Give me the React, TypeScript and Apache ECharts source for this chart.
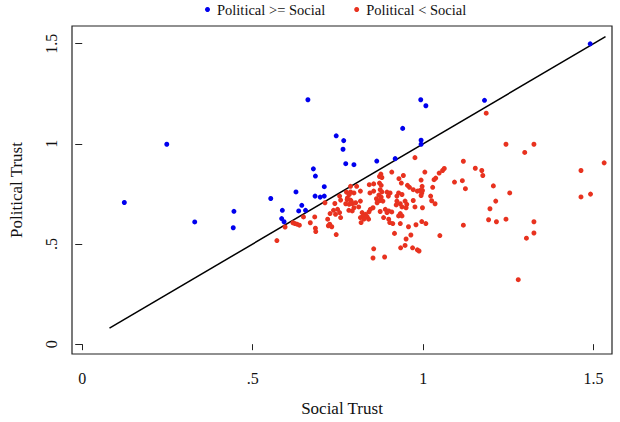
import React, { useEffect, useRef } from "react";
import * as echarts from "echarts";

const seriesNames = ["Political >= Social", "Political < Social"];
const tickValues = [0, 0.5, 1, 1.5];
const tickLabels = ["0", ".5", "1", "1.5"];
const xTitle = "Social Trust";
const yTitle = "Political Trust";
const diagonal = [
  [0.08, 0.08],
  [1.535, 1.535],
];

const bluePoints = [
  [0.1235, 0.707], [0.248, 0.998], [0.33, 0.61], [0.445, 0.663], [0.443, 0.581],
  [0.553, 0.727], [0.585, 0.627], [0.587, 0.668], [0.592, 0.611], [0.627, 0.76],
  [0.635, 0.665], [0.644, 0.693], [0.655, 0.668], [0.662, 1.22], [0.678, 0.875],
  [0.684, 0.839], [0.683, 0.739], [0.698, 0.734], [0.71, 0.739], [0.71, 0.786],
  [0.745, 1.04], [0.767, 1.016], [0.765, 0.973], [0.773, 0.901], [0.797, 0.896],
  [0.864, 0.914], [0.918, 0.926], [0.94, 1.077], [0.993, 1.22], [1.008, 1.19],
  [0.994, 1.018], [0.994, 0.998], [1.18, 1.217], [1.49, 1.499],
];

const redPoints = [
  [0.571, 0.517], [0.595, 0.585], [0.618, 0.606], [0.624, 0.602], [0.63, 0.599],
  [0.637, 0.594], [0.649, 0.635], [0.669, 0.606], [0.682, 0.635], [0.684, 0.579],
  [0.685, 0.562], [0.712, 0.706], [0.72, 0.624], [0.722, 0.591], [0.726, 0.599],
  [0.732, 0.586], [0.727, 0.652], [0.737, 0.668], [0.741, 0.702], [0.743, 0.648],
  [0.745, 0.547], [0.749, 0.673], [0.755, 0.657], [0.755, 0.739], [0.758, 0.719],
  [0.758, 0.632], [0.773, 0.701], [0.775, 0.759], [0.778, 0.73], [0.783, 0.75],
  [0.783, 0.698], [0.787, 0.719], [0.792, 0.702], [0.787, 0.788], [0.805, 0.788],
  [0.787, 0.76], [0.797, 0.755], [0.783, 0.747], [0.777, 0.722], [0.789, 0.714],
  [0.802, 0.706], [0.816, 0.714], [0.816, 0.764], [0.797, 0.681], [0.811, 0.685],
  [0.792, 0.665], [0.782, 0.668], [0.821, 0.657], [0.831, 0.648], [0.824, 0.64],
  [0.836, 0.635], [0.816, 0.632], [0.826, 0.624], [0.84, 0.624], [0.818, 0.607],
  [0.842, 0.796], [0.855, 0.8], [0.872, 0.804], [0.877, 0.793], [0.844, 0.755],
  [0.855, 0.764], [0.874, 0.771], [0.879, 0.76], [0.87, 0.744], [0.877, 0.734],
  [0.863, 0.726], [0.873, 0.717], [0.882, 0.714], [0.865, 0.706], [0.853, 0.681],
  [0.845, 0.673], [0.841, 0.66], [0.874, 0.662], [0.889, 0.673], [0.899, 0.665],
  [0.894, 0.657], [0.908, 0.66], [0.884, 0.632], [0.899, 0.624], [0.902, 0.607],
  [0.911, 0.602], [0.894, 0.759], [0.903, 0.755], [0.898, 0.739], [0.876, 0.849],
  [0.872, 0.837], [0.879, 0.832], [0.908, 0.859], [0.942, 0.842], [0.929, 0.826],
  [0.936, 0.804], [0.954, 0.793], [0.96, 0.783], [0.971, 0.771], [0.983, 0.764],
  [0.991, 0.767], [0.996, 0.755], [0.928, 0.755], [0.938, 0.747], [0.923, 0.739],
  [0.923, 0.714], [0.921, 0.695], [0.933, 0.701], [0.947, 0.714], [0.952, 0.698],
  [0.938, 0.685], [0.95, 0.681], [0.971, 0.717], [0.976, 0.685], [0.933, 0.652],
  [0.938, 0.64], [0.928, 0.64], [0.933, 0.602], [0.957, 0.586], [0.979, 0.596],
  [0.996, 0.612], [1.008, 0.602], [0.916, 0.553], [0.964, 0.545], [0.95, 0.525],
  [1.049, 0.542], [0.947, 0.493], [0.934, 0.481], [0.969, 0.481], [0.983, 0.471],
  [0.988, 0.465], [0.855, 0.476], [0.853, 0.43], [0.887, 0.435], [0.976, 0.931],
  [1.005, 0.859], [1.047, 0.854], [1.037, 0.829], [1.032, 0.821], [1.057, 0.867],
  [1.062, 0.877], [0.994, 0.819], [0.997, 0.788], [0.998, 0.767], [1.028, 0.783],
  [0.994, 0.742], [1.022, 0.739], [1.025, 0.716], [1.035, 0.701], [0.998, 0.681],
  [1.118, 0.913], [1.153, 0.878], [1.172, 0.867], [1.175, 0.842], [1.092, 0.809],
  [1.115, 0.816], [1.124, 0.776], [1.185, 1.153], [1.206, 0.79], [1.254, 0.755],
  [1.213, 0.714], [1.196, 0.676], [1.192, 0.621], [1.215, 0.611], [1.243, 0.624],
  [1.118, 0.594], [1.243, 0.998], [1.325, 0.998], [1.298, 0.957], [1.325, 0.611],
  [1.325, 0.555], [1.303, 0.529], [1.279, 0.322], [1.463, 0.867], [1.531, 0.905],
  [1.463, 0.735], [1.491, 0.749],
];

const FONT = "'Liberation Serif', 'DejaVu Serif', serif";

function labelFor(v: number): string {
  const i = tickValues.findIndex((t) => Math.abs(t - v) < 1e-6);
  return i >= 0 ? tickLabels[i] : "";
}

export default function App() {
  const ref = useRef<HTMLDivElement>(null);
  useEffect(() => {
    if (!ref.current) return;
    const chart = echarts.init(ref.current, undefined, { renderer: "svg" });
    chart.setOption({
      animation: false,
      backgroundColor: "#ffffff",
      textStyle: { fontFamily: FONT },
      legend: {
        data: seriesNames,
        top: 2,
        left: 205,
        padding: 0,
        icon: "circle",
        itemWidth: 5,
        itemHeight: 5,
        itemGap: 29,
        textStyle: { fontFamily: FONT, fontSize: 14.5, color: "#111", padding: [0, 0, 0, 2] },
      },
      grid: {
        left: 67,
        right: 8,
        top: 26,
        bottom: 64,
        show: true,
        borderColor: "#222",
        borderWidth: 1.2,
        backgroundColor: "#fff",
      },
      xAxis: {
        type: "value",
        min: -0.03,
        max: 1.554,
        name: xTitle,
        nameLocation: "middle",
        nameGap: 46,
        nameTextStyle: { fontFamily: FONT, fontSize: 17, color: "#111" },
        axisLine: { show: false },
        splitLine: { show: false },
        axisTick: {
          show: true,
          length: 6,
          customValues: tickValues,
          lineStyle: { color: "#222", width: 1 },
        },
        axisLabel: {
          customValues: tickValues,
          formatter: (v: number) => labelFor(v),
          fontFamily: FONT,
          fontSize: 16,
          color: "#111",
          margin: 16,
        },
      },
      yAxis: {
        type: "value",
        min: -0.049,
        max: 1.588,
        name: yTitle,
        nameLocation: "middle",
        nameGap: 47,
        nameRotate: 90,
        nameTextStyle: { fontFamily: FONT, fontSize: 17, color: "#111" },
        axisLine: { show: false },
        splitLine: { show: false },
        axisTick: {
          show: true,
          length: 7,
          customValues: tickValues,
          lineStyle: { color: "#222", width: 1 },
        },
        axisLabel: {
          customValues: tickValues,
          formatter: (v: number) => labelFor(v),
          rotate: 90,
          fontFamily: FONT,
          fontSize: 16,
          color: "#111",
          margin: 13,
        },
      },
      series: [
        {
          name: seriesNames[0],
          type: "scatter",
          data: bluePoints,
          symbol: "circle",
          symbolSize: 5,
          itemStyle: { color: "#0000ee", opacity: 1 },
          z: 3,
        },
        {
          name: seriesNames[1],
          type: "scatter",
          data: redPoints,
          symbol: "circle",
          symbolSize: 5,
          itemStyle: { color: "#e8321f", opacity: 1 },
          z: 3,
        },
        {
          name: "diagonal",
          type: "line",
          data: diagonal,
          showSymbol: false,
          symbol: "none",
          lineStyle: { color: "#000", width: 1.5 },
          z: 2,
          silent: true,
        },
      ],
    });
    return () => chart.dispose();
  }, []);
  return <div ref={ref} style={{ width: 620, height: 422, position: "absolute", left: 0, top: 0 }} />;
}
